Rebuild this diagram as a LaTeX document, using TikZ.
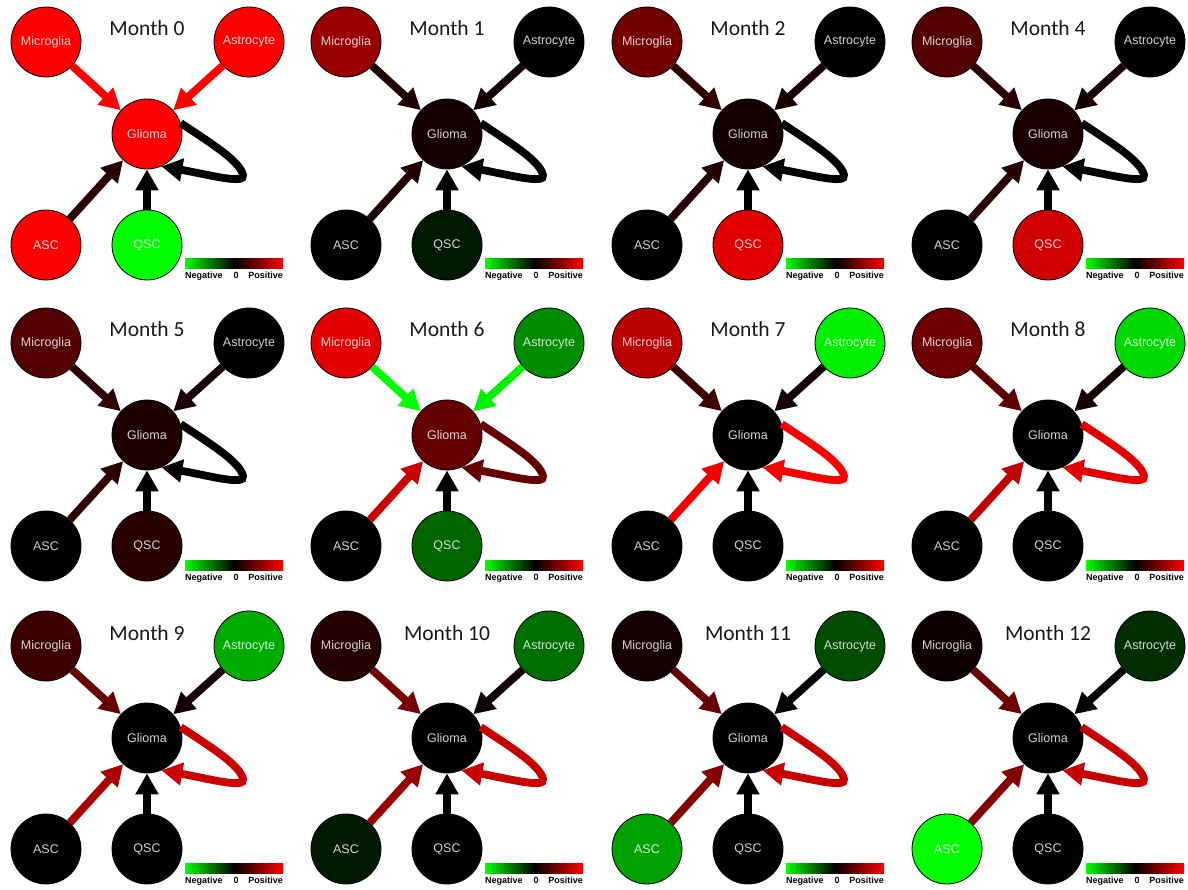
\documentclass[tikz,border=0pt]{standalone}
\usepackage{fontspec}
\setmainfont{Liberation Sans}
\newfontfamily\titlefont{Carlito}
\usetikzlibrary{arrows.meta}
\tikzset{
 cell/.style={circle, draw=black, line width=0.8pt, minimum size=70pt, inner sep=0pt,
   text=white, text opacity=0.82, font=\fontsize{12.5}{14}\selectfont},
 edge/.style={line width=7.8pt, -{Triangle[length=21pt,width=22pt]}},
 ttl/.style={anchor=base, font=\titlefont\fontsize{21.5}{24}\selectfont, text=black!90},
 leg/.style={anchor=base, font=\bfseries\fontsize{9}{10}\selectfont, inner sep=0pt},
}
% title, microglia, astrocyte, glioma, asc, qsc
\newcommand\pnodes[6]{%
  \node[ttl] (ttl) at (147,36) {#1};
  \node[cell, fill=#2] (mic) at (46,42) {Microglia};
  \node[cell, fill=#3] (ast) at (249,42) {Astrocyte};
  \node[cell, fill=#4] (gli) at (147,134) {Glioma};
  \node[cell, fill=#5] (asc) at (46,245) {ASC};
  \node[cell, fill=#6] (qsc) at (147,245) {QSC};
  \coordinate (far) at (243,175);
  \shade[left color=green, right color=red, middle color=black] (185,259) rectangle (283,269);
  \node[leg, anchor=base west] (neg) at (185,279) {Negative};
  \node[leg] (zero) at (236,279) {0};
  \node[leg, anchor=base east] (pos) at (283,279) {Positive};
}
% mic->gli, ast->gli, asc->gli, qsc->gli, loop
\newcommand\pedges[5]{%
  \draw[edge, draw=#1] (mic) -- (gli);
  \draw[edge, draw=#2] (ast) -- (gli);
  \draw[edge, draw=#3] (asc) -- (gli);
  \draw[edge, draw=#4] (qsc) -- (gli);
  \draw[edge, draw=#5] (gli.18) .. controls +(30,20) and +(-3,-14) .. (far)
     .. controls +(3,10) and +(46,8) .. (gli.-66);
}
\begin{document}
\begin{tikzpicture}[x=1pt,y=-1pt]
\useasboundingbox (0,0) rectangle (1188,890);
\fill[white] (0,0) rectangle (1188,890);
% Row 0
\begin{scope}[shift={(0,0)}]
 \pnodes{Month 0}{red}{red}{red}{red}{green}
 \pedges{red}{red}{red!16!black}{black}{black}
\end{scope}
\begin{scope}[shift={(300,0)}]
 \pnodes{Month 1}{red!60!black}{black}{red!8!black}{black}{green!10!black}
 \pedges{red!12!black}{red!8!black}{red!12!black}{black}{black}
\end{scope}
\begin{scope}[shift={(601,0)}]
 \pnodes{Month 2}{red!45!black}{black}{red!8!black}{black}{red!88!black}
 \pedges{red!18!black}{red!10!black}{red!14!black}{black}{black}
\end{scope}
\begin{scope}[shift={(901,0)}]
 \pnodes{Month 4}{red!32!black}{black}{red!10!black}{black}{red!82!black}
 \pedges{red!16!black}{red!8!black}{red!14!black}{black}{black}
\end{scope}
% Row 1
\begin{scope}[shift={(0,301)}]
 \pnodes{Month 5}{red!32!black}{black}{red!12!black}{black}{red!16!black}
 \pedges{red!18!black}{red!10!black}{red!18!black}{black}{black}
\end{scope}
\begin{scope}[shift={(300,301)}]
 \pnodes{Month 6}{red!90!black}{green!55!black}{red!40!black}{black}{green!40!black}
 \pedges{green}{green!95!black}{red!80!black}{black}{red!40!black}
\end{scope}
\begin{scope}[shift={(601,301)}]
 \pnodes{Month 7}{red!73!black}{green!94!black}{black}{black}{black}
 \pedges{red!24!black}{red!8!black}{red!95!black}{black}{red!98!black}
\end{scope}
\begin{scope}[shift={(901,301)}]
 \pnodes{Month 8}{red!43!black}{green!85!black}{black}{black}{black}
 \pedges{red!36!black}{red!8!black}{red!75!black}{black}{red!90!black}
\end{scope}
% Row 2
\begin{scope}[shift={(0,604)}]
 \pnodes{Month 9}{red!24!black}{green!67!black}{black}{black}{black}
 \pedges{red!40!black}{red!8!black}{red!67!black}{black}{red!80!black}
\end{scope}
\begin{scope}[shift={(300,604)}]
 \pnodes{Month 10}{red!14!black}{green!43!black}{black}{green!10!black}{black}
 \pedges{red!47!black}{red!6!black}{red!60!black}{black}{red!78!black}
\end{scope}
\begin{scope}[shift={(601,604)}]
 \pnodes{Month 11}{red!8!black}{green!30!black}{black}{green!63!black}{black}
 \pedges{red!40!black}{black}{red!52!black}{black}{red!78!black}
\end{scope}
\begin{scope}[shift={(901,604)}]
 \pnodes{Month 12}{red!6!black}{green!18!black}{black}{green}{black}
 \pedges{red!43!black}{black}{red!52!black}{black}{red!78!black}
\end{scope}
\end{tikzpicture}
\end{document}
